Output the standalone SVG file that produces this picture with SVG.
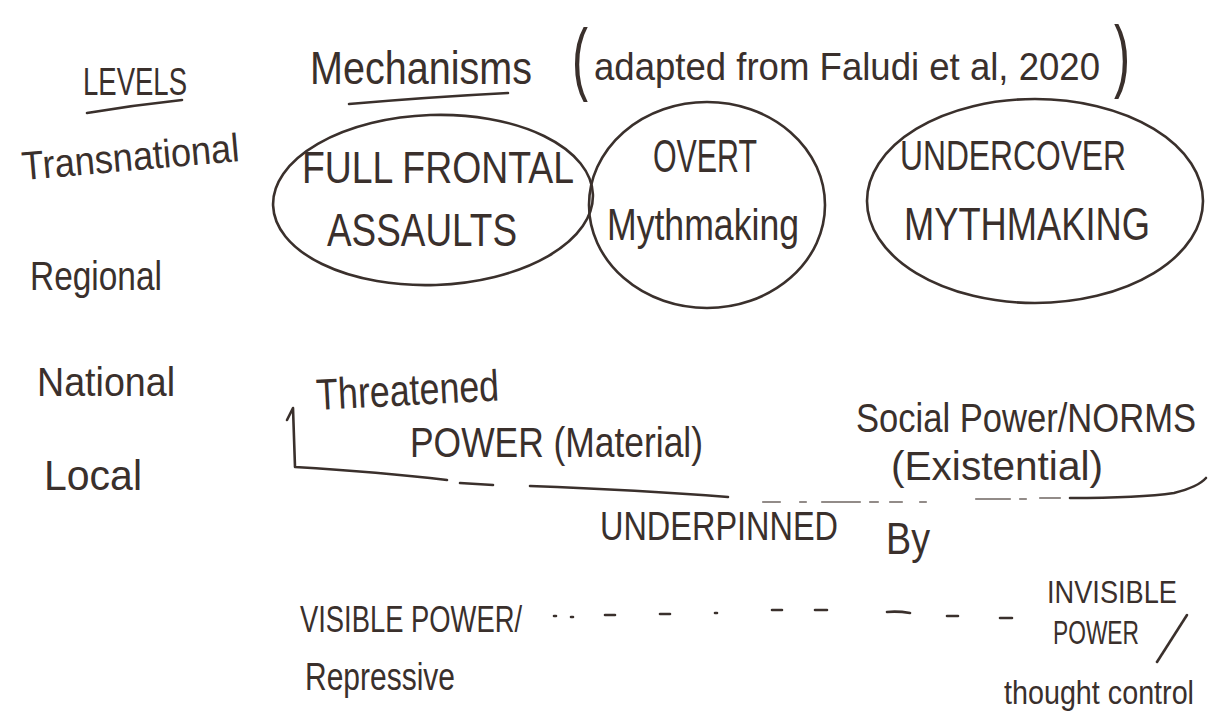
<svg xmlns="http://www.w3.org/2000/svg" width="1208" height="711" viewBox="0 0 1208 711">
  <style>
    .ink { fill: #3a302c; font-family: "Liberation Sans", "DejaVu Sans", sans-serif; }
    .pen { fill: none; stroke: #3a302c; stroke-width: 2.6; stroke-linecap: round; stroke-linejoin: round; }
    .faint { fill: none; stroke: #6e6460; stroke-width: 2.2; stroke-linecap: round; opacity: 0.75; }
  </style>

  <rect width="1208" height="711" fill="#ffffff"/>

  <!-- Column headings -->
  <g id="heading-levels">
    <text class="ink" x="83" y="95" font-size="38" textLength="104" lengthAdjust="spacingAndGlyphs">LEVELS</text>
    <path class="pen" d="M 87 113 Q 135 105 182 100"/>
  </g>
  <g id="heading-mechanisms">
    <text class="ink" x="310" y="84" font-size="46" textLength="222" lengthAdjust="spacingAndGlyphs">Mechanisms</text>
    <path class="pen" d="M 349 104 Q 430 97 508 93"/>
  </g>
  <g id="heading-source">
    <text class="ink" x="572" y="85" font-size="80" textLength="16" lengthAdjust="spacingAndGlyphs">(</text>
    <text class="ink" x="594" y="80" font-size="38" textLength="506" lengthAdjust="spacingAndGlyphs">adapted from Faludi et al, 2020</text>
    <text class="ink" x="1114" y="82" font-size="80" textLength="16" lengthAdjust="spacingAndGlyphs">)</text>
  </g>

  <!-- Levels column -->
  <g id="level-transnational">
    <text class="ink" x="23" y="180" font-size="40" textLength="218" lengthAdjust="spacingAndGlyphs" transform="rotate(-5 23 180)">Transnational</text>
  </g>
  <g id="level-regional">
    <text class="ink" x="30" y="290" font-size="40" textLength="132" lengthAdjust="spacingAndGlyphs">Regional</text>
  </g>
  <g id="level-national">
    <text class="ink" x="37" y="396" font-size="40" textLength="138" lengthAdjust="spacingAndGlyphs">National</text>
  </g>
  <g id="level-local">
    <text class="ink" x="44" y="490" font-size="42" textLength="98" lengthAdjust="spacingAndGlyphs">Local</text>
  </g>

  <!-- Mechanism bubbles -->
  <g id="mech-full-frontal">
    <ellipse class="pen" cx="433" cy="200" rx="160" ry="85" transform="rotate(-2 433 200)"/>
    <text class="ink" x="302" y="183" font-size="44" textLength="272" lengthAdjust="spacingAndGlyphs">FULL FRONTAL</text>
    <text class="ink" x="327" y="246" font-size="46" textLength="190" lengthAdjust="spacingAndGlyphs">ASSAULTS</text>
  </g>
  <g id="mech-overt">
    <ellipse class="pen" cx="707" cy="205" rx="118" ry="103"/>
    <text class="ink" x="653" y="172" font-size="46" textLength="104" lengthAdjust="spacingAndGlyphs">OVERT</text>
    <text class="ink" x="607" y="240" font-size="44" textLength="192" lengthAdjust="spacingAndGlyphs">Mythmaking</text>
  </g>
  <g id="mech-undercover">
    <ellipse class="pen" cx="1035" cy="201" rx="168" ry="102"/>
    <text class="ink" x="900" y="170" font-size="42" textLength="226" lengthAdjust="spacingAndGlyphs">UNDERCOVER</text>
    <text class="ink" x="904" y="240" font-size="46" textLength="246" lengthAdjust="spacingAndGlyphs">MYTHMAKING</text>
  </g>

  <!-- Power bases -->
  <g id="power-material">
    <text class="ink" x="317" y="410" font-size="44" textLength="183" lengthAdjust="spacingAndGlyphs" transform="rotate(-3 317 410)">Threatened</text>
    <text class="ink" x="410" y="457" font-size="42" textLength="293" lengthAdjust="spacingAndGlyphs">POWER (Material)</text>
  </g>
  <g id="power-social">
    <text class="ink" x="856" y="432" font-size="40" textLength="340" lengthAdjust="spacingAndGlyphs">Social Power/NORMS</text>
    <text class="ink" x="891" y="480" font-size="40" textLength="212" lengthAdjust="spacingAndGlyphs">(Existential)</text>
  </g>

  <g id="underpinned">
    <text class="ink" x="600" y="540" font-size="40" textLength="238" lengthAdjust="spacingAndGlyphs">UNDERPINNED</text>
    <text class="ink" x="886" y="554" font-size="44" textLength="44" lengthAdjust="spacingAndGlyphs">By</text>
  </g>

  <!-- Spectrum ends -->
  <g id="visible-power">
    <text class="ink" x="300" y="632" font-size="36" textLength="222" lengthAdjust="spacingAndGlyphs">VISIBLE POWER/</text>
    <text class="ink" x="305" y="690" font-size="38" textLength="150" lengthAdjust="spacingAndGlyphs">Repressive</text>
  </g>
  <g id="invisible-power">
    <text class="ink" x="1047" y="603" font-size="32" textLength="130" lengthAdjust="spacingAndGlyphs">INVISIBLE</text>
    <text class="ink" x="1053" y="644" font-size="34" textLength="86" lengthAdjust="spacingAndGlyphs">POWER</text>
    <path class="pen" d="M 1157 662 L 1187 615"/>
    <text class="ink" x="1004" y="704" font-size="34" textLength="190" lengthAdjust="spacingAndGlyphs">thought control</text>
  </g>

  <!-- Connectors -->
  <g id="connectors">
    <!-- bracket beneath the power bases -->
    <path class="pen" d="M 287 420 L 293 408 L 295 467 Q 380 472 447 480"/>
    <path class="pen" d="M 460 483 L 493 485 M 530 486 Q 640 490 728 497"/>
    <path class="faint" d="M 763 502 L 780 502 M 800 502 L 806 502 M 822 502 L 860 502 M 870 502 L 878 502 M 890 502 L 902 502 M 920 502 L 926 502 M 976 499 L 1010 499 M 1020 499 L 1026 499 M 1040 498 L 1060 498"/>
    <path class="pen" d="M 1070 498 Q 1140 498 1174 493 Q 1198 487 1206 478"/>
    <!-- visible / invisible spectrum -->
    <path class="pen" d="M 554 616 L 556 616 M 571 617 L 573 617 M 605 615 L 615 615 M 660 614 L 670 614 M 715 613 L 717 613 M 772 610 L 782 610 M 815 610 L 827 610 M 887 612 Q 898 611 910 613 M 947 616 L 958 616 M 1000 618 L 1012 618"/>
  </g>
</svg>
